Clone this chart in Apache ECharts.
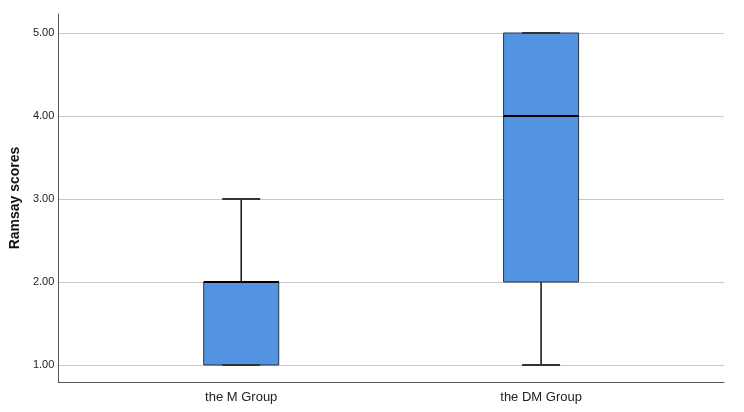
<!DOCTYPE html>
<html>
<head>
<meta charset="utf-8">
<script src="https://cdn.jsdelivr.net/npm/echarts@6/dist/echarts.min.js"></script>
<style>html,body{margin:0;padding:0;background:#fff;}#c{width:744px;height:412px;}</style>
</head>
<body>
<div id="c"></div>
<script>
const categories = ['the M Group', 'the DM Group'];
const mins    = [1, 1];
const q1s     = [1, 2];
const medians = [2, 4];
const q3s     = [2, 5];
const maxs    = [3, 5];
const yTicks  = [1, 2, 3, 4, 5];

const boxData = categories.map((c, i) => [i, mins[i], q1s[i], medians[i], q3s[i], maxs[i]]);

const chart = echarts.init(document.getElementById('c'), null, {renderer: 'canvas'});
const BOX_W = 75, CAP_W = 38;

chart.setOption({
  backgroundColor: '#fff',
  animation: false,
  grid: {left: 58, right: 20, top: 14, bottom: 30, containLabel: false},
  xAxis: {
    type: 'value', min: -0.61, max: 1.61,
    axisLine: {show: true, onZero: false, lineStyle: {color: '#555', width: 1}},
    axisTick: {show: false},
    splitLine: {show: false},
    axisLabel: {
      customValues: [0, 1],
      formatter: v => categories[Math.round(v)] || '',
      color: '#222', fontFamily: 'Liberation Sans, Arial, sans-serif', fontSize: 13, margin: 9
    }
  },
  yAxis: {
    type: 'value', min: 0.795, max: 5.229,
    name: 'Ramsay scores', nameLocation: 'middle', nameGap: 27,
    nameTextStyle: {fontFamily: 'Liberation Sans, Arial, sans-serif', fontSize: 14, fontWeight: 'bold', color: '#111'},
    axisLine: {show: true, onZero: false, lineStyle: {color: '#555', width: 1}},
    axisTick: {show: false, customValues: yTicks},
    splitLine: {show: true, lineStyle: {color: '#c8c8c8', width: 1}},
    axisLabel: {
      customValues: yTicks,
      formatter: v => v.toFixed(2),
      color: '#222', fontFamily: 'Liberation Sans, Arial, sans-serif', fontSize: 11, margin: 4
    }
  },
  series: [{
    type: 'custom',
    data: boxData,
    encode: {x: 0, y: [1, 2, 3, 4, 5]},
    renderItem: function (params, api) {
      const x = api.value(0);
      const pMin = api.coord([x, api.value(1)]);
      const pQ1 = api.coord([x, api.value(2)]);
      const pMed = api.coord([x, api.value(3)]);
      const pQ3 = api.coord([x, api.value(4)]);
      const pMax = api.coord([x, api.value(5)]);
      const cx = pQ1[0];
      const children = [];
      const lineStyle = {stroke: '#111', lineWidth: 1.5};
      const capStyle = {stroke: '#333', lineWidth: 2};
      children.push({type: 'line', shape: {x1: cx, y1: pQ3[1], x2: cx, y2: pMax[1]}, style: lineStyle});
      children.push({type: 'line', shape: {x1: cx, y1: pQ1[1], x2: cx, y2: pMin[1]}, style: lineStyle});
      children.push({
        type: 'rect',
        shape: {x: cx - BOX_W / 2, y: pQ3[1], width: BOX_W, height: pQ1[1] - pQ3[1]},
        style: {fill: '#5294e2', stroke: '#2a3440', lineWidth: 1}
      });
      children.push({type: 'line', shape: {x1: cx - CAP_W / 2, y1: pMax[1], x2: cx + CAP_W / 2, y2: pMax[1]}, style: capStyle});
      children.push({type: 'line', shape: {x1: cx - CAP_W / 2, y1: pMin[1], x2: cx + CAP_W / 2, y2: pMin[1]}, style: capStyle});
      children.push({type: 'line', shape: {x1: cx - BOX_W / 2, y1: pMed[1], x2: cx + BOX_W / 2, y2: pMed[1]}, style: {stroke: '#000', lineWidth: 2}});
      return {type: 'group', children: children};
    },
    z: 5
  }]
});
</script>
</body>
</html>
